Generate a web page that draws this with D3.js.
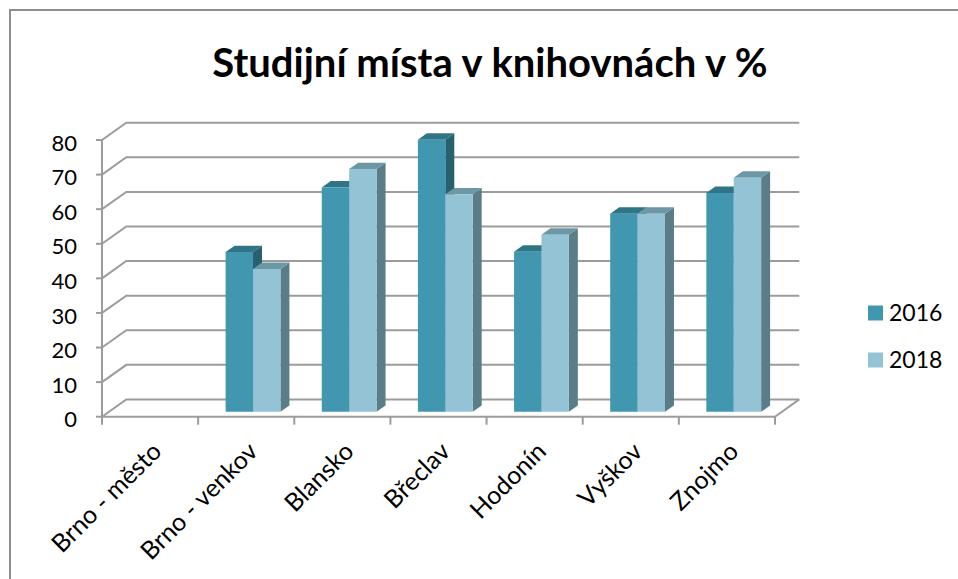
<!DOCTYPE html>
<html lang="cs">
<head>
<meta charset="UTF-8">
<title>Studijní místa v knihovnách v %</title>
<style>
  body { margin: 0; background: #fff; }
  text { font-family: Lato, "Open Sans", sans-serif; fill: #000; }
</style>
</head>
<body>
<script src="https://cdn.jsdelivr.net/npm/d3@7/dist/d3.min.js"></script>
<script>
// data
var categories = ["Brno - město", "Brno - venkov", "Blansko", "Břeclav", "Hodonín", "Vyškov", "Znojmo"];
var series = ["2016", "2018"];
var values2016 = [null, 46.2, 64.9, 78.7, 46.3, 57.3, 63.3];
var values2018 = [null, 41.3, 70.2, 62.9, 51.2, 57.3, 67.7];
var yTicks = [0, 10, 20, 30, 40, 50, 60, 70, 80];

var width = 958, height = 579;

// colours per series: front, top, side
var colors = {
  "2016": { front: "#4297b0", top: "#2f7585", side: "#28616e" },
  "2018": { front: "#93c3d5", top: "#6d97a4", side: "#5b7d88" }
};

var svg = d3.select("body").append("svg")
  .attr("width", width)
  .attr("height", height);

// outer chart border (runs off the right / bottom of the picture)
svg.append("rect")
  .attr("x", 10).attr("y", 10)
  .attr("width", 1000).attr("height", 1000)
  .attr("fill", "none").attr("stroke", "#8e8e8e").attr("stroke-width", 2);

svg.append("text")
  .attr("x", 490).attr("y", 77)
  .attr("text-anchor", "middle")
  .style("font-size", "40px").style("font-weight", "bold")
  .text("Studijní místa v knihovnách v %");

// 3d frame
var x0 = 102, plotW = 673;
var depthX = 24.3, depthY = -17.3;
var y = d3.scaleLinear().domain([0, 80]).range([416.7, 140]);
var x = d3.scaleBand().domain(categories).range([0, plotW]);

// project (x along category axis, value, depth fraction) to screen
function P(px, v, f) {
  return [x0 + px + f * depthX, y(v) + f * depthY];
}

var grid = svg.append("g").attr("fill", "none").attr("stroke", "#9c9c9c").attr("stroke-width", 2);
yTicks.forEach(function(t) {
  var a = P(0, t, 0), b = P(0, t, 1), c = P(plotW, t, 1);
  grid.append("path").attr("d", "M" + a + "L" + b + "L" + c);
});
// floor right edge + front axis lines
var fr = P(plotW, 0, 0), br = P(plotW, 0, 1);
grid.append("path").attr("d", "M" + br + "L" + fr);
grid.append("path").attr("d", "M" + P(0, 0, 0) + "L" + fr);
grid.append("path").attr("d", "M" + P(0, 0, 0) + "L" + P(0, 80, 0));

// y ticks and labels
yTicks.forEach(function(t) {
  grid.append("line")
    .attr("x1", x0 - 6).attr("x2", x0)
    .attr("y1", y(t)).attr("y2", y(t));
  svg.append("text")
    .attr("x", 77).attr("y", y(t) + 3)
    .attr("dy", "0.35em")
    .attr("text-anchor", "end")
    .style("font-size", "22px")
    .text(t);
});

// category ticks
d3.range(categories.length + 1).forEach(function(i) {
  var xx = x0 + i * x.step();
  grid.append("line")
    .attr("x1", xx).attr("x2", xx)
    .attr("y1", y(0)).attr("y2", y(0) + 8);
});

// category labels
categories.forEach(function(c) {
  var cx = x0 + x(c) + x.bandwidth() / 2 + 13;
  var cy = 453;
  svg.append("text")
    .attr("transform", "translate(" + cx + "," + cy + ") rotate(-45)")
    .attr("text-anchor", "end")
    .style("font-size", "25px")
    .text(c);
});

// bars
var f0 = 0.28, f1 = 0.65;
var inner = d3.scaleBand().domain(series)
  .range([x.bandwidth() * 0.215, x.bandwidth() * 0.785]);
var seriesValues = { "2016": values2016, "2018": values2018 };

var bars = svg.append("g");
categories.forEach(function(c, i) {
  series.forEach(function(s) {
    var v = seriesValues[s][i];
    if (v == null) return;
    var xl = x(c) + inner(s), xr = xl + inner.bandwidth();
    var col = colors[s];
    var g = bars.append("g");
    // right side
    g.append("path")
      .attr("d", "M" + P(xr, 0, f0) + "L" + P(xr, 0, f1) + "L" + P(xr, v, f1) + "L" + P(xr, v, f0) + "Z")
      .attr("fill", col.side);
    // top
    g.append("path")
      .attr("d", "M" + P(xl, v, f0) + "L" + P(xl, v, f1) + "L" + P(xr, v, f1) + "L" + P(xr, v, f0) + "Z")
      .attr("fill", col.top);
    // front
    g.append("path")
      .attr("d", "M" + P(xl, 0, f0) + "L" + P(xr, 0, f0) + "L" + P(xr, v, f0) + "L" + P(xl, v, f0) + "Z")
      .attr("fill", col.front);
  });
});

// legend
var legend = svg.append("g");
series.forEach(function(s, i) {
  var ly = 313 + i * 47;
  legend.append("rect")
    .attr("x", 868).attr("y", ly - 7.5)
    .attr("width", 15).attr("height", 15)
    .attr("fill", colors[s].front);
  legend.append("text")
    .attr("x", 889).attr("y", ly)
    .attr("dy", "0.35em")
    .style("font-size", "23px")
    .text(s);
});
</script>
</body>
</html>
